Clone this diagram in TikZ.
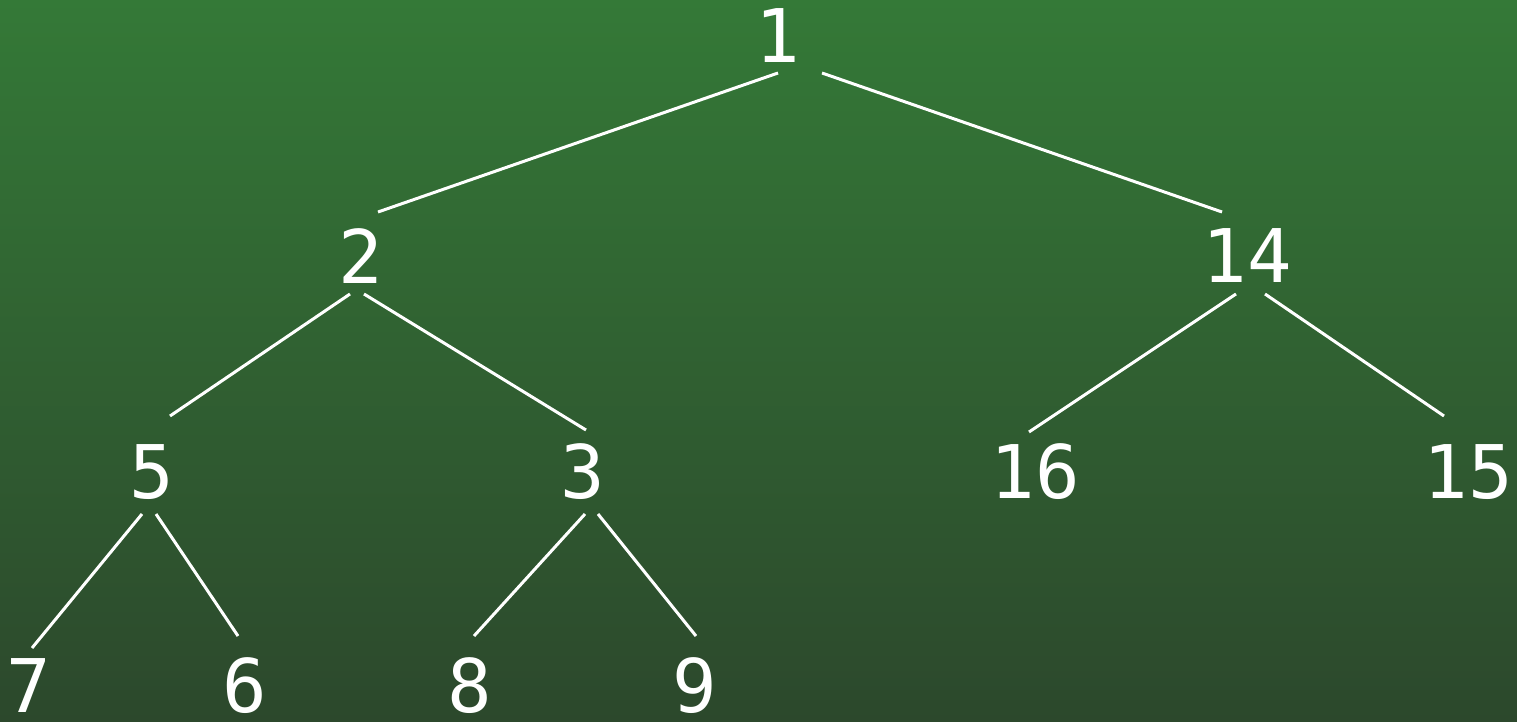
\documentclass[tikz,border=0pt]{standalone}
\usepackage{fontspec}
\newfontfamily\digitfont{DejaVu Sans Mono}
\usetikzlibrary{calc}
\definecolor{bgtop}{RGB}{52,121,55}
\definecolor{bgbot}{RGB}{44,72,44}
\tikzset{
  num/.style={inner sep=0pt, text=white, font=\digitfont\fontsize{74}{80}\selectfont},
  edge/.style={draw=white, line width=3pt}
}
\begin{document}
\begin{tikzpicture}[x=1pt,y=-1pt]
\shade[top color=bgtop, bottom color=bgbot] (0,0) rectangle (1517,722);
\useasboundingbox (0,0) rectangle (1517,722);
\node[num] (n1) at (778,36) {1};
\node[num] (n2) at (361,256) {2};
\node[num] (n14) at (1247,256) {14};
\node[num] (n5) at (152,472) {5};
\node[num] (n3) at (583,472) {3};
\node[num] (n16) at (1035,472) {16};
\node[num] (n15) at (1468,472) {15};
\node[num] (n7) at (29,686) {7};
\node[num] (n6) at (245,686) {6};
\node[num] (n8) at (470,686) {8};
\node[num] (n9) at (695,686) {9};
\draw[edge] ($(n1)+(0,37)$) -- ($(n2)+(17,-44)$);
\draw[edge] ($(n1)+(44,37)$) -- ($(n14)+(-25,-44)$);
\draw[edge] ($(n2)+(-11,38)$) -- ($(n5)+(18,-56)$);
\draw[edge] ($(n2)+(3,38)$) -- ($(n3)+(3,-42)$);
\draw[edge] ($(n14)+(-11,38)$) -- ($(n16)+(-6,-40)$);
\draw[edge] ($(n14)+(18,38)$) -- ($(n15)+(-24,-56)$);
\draw[edge] ($(n5)+(-10,42)$) -- ($(n7)+(3,-38)$);
\draw[edge] ($(n5)+(4,42)$) -- ($(n6)+(-7,-50)$);
\draw[edge] ($(n3)+(2,42)$) -- ($(n8)+(4,-50)$);
\draw[edge] ($(n3)+(15,42)$) -- ($(n9)+(1,-50)$);
\end{tikzpicture}
\end{document}
